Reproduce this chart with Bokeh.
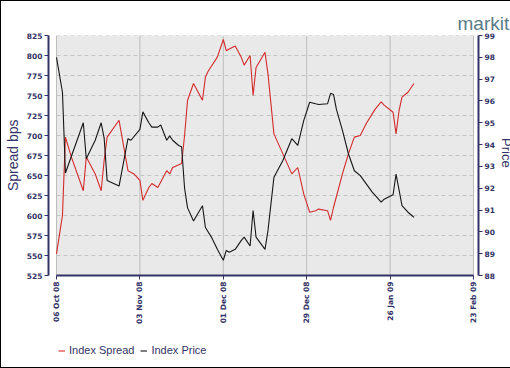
import math
import pandas as pd
from bokeh.plotting import figure
from bokeh.models import Range1d, LinearAxis, FixedTicker, Legend, LegendItem, BoxAnnotation
from bokeh.embed import file_html
from bokeh.resources import INLINE

# ---- data ----
spread_dates = [
    "2008-10-06", "2008-10-07", "2008-10-08", "2008-10-09", "2008-10-11", "2008-10-15",
    "2008-10-16", "2008-10-19", "2008-10-21", "2008-10-22", "2008-10-23", "2008-10-27",
    "2008-10-30", "2008-11-01", "2008-11-03", "2008-11-04", "2008-11-06", "2008-11-07",
    "2008-11-09", "2008-11-10", "2008-11-12", "2008-11-13", "2008-11-14", "2008-11-17",
    "2008-11-18", "2008-11-19", "2008-11-21", "2008-11-24", "2008-11-25", "2008-11-26",
    "2008-11-29", "2008-12-01", "2008-12-02", "2008-12-03", "2008-12-05", "2008-12-07",
    "2008-12-08", "2008-12-10", "2008-12-11", "2008-12-12", "2008-12-15", "2008-12-16",
    "2008-12-18", "2008-12-21", "2008-12-24", "2008-12-26", "2008-12-28", "2008-12-30",
    "2009-01-01", "2009-01-02", "2009-01-05", "2009-01-06", "2009-01-07", "2009-01-10",
    "2009-01-12", "2009-01-14", "2009-01-16", "2009-01-18", "2009-01-20", "2009-01-21",
    "2009-01-23", "2009-01-24", "2009-01-27", "2009-01-28", "2009-01-29", "2009-01-30",
    "2009-02-01", "2009-02-03",
]
spread_values = [
    552, 576, 600, 698, 673, 631,
    673, 652, 631, 669, 698, 719,
    656, 652, 644, 619, 635, 640,
    635, 642, 656, 652, 660, 665,
    700, 744, 765, 744, 773, 781,
    798, 820, 806, 808, 812, 798,
    788, 800, 750, 785, 804, 777,
    702, 677, 652, 660, 627, 604,
    606, 608, 606, 594, 610, 652,
    677, 698, 700, 715, 727, 733,
    742, 738, 729, 702, 731, 748,
    754, 765,
]

price_dates = [
    "2008-10-06", "2008-10-08", "2008-10-09", "2008-10-15", "2008-10-16", "2008-10-19",
    "2008-10-21", "2008-10-22", "2008-10-23", "2008-10-27", "2008-10-30", "2008-10-31",
    "2008-11-03", "2008-11-04", "2008-11-06", "2008-11-07", "2008-11-09", "2008-11-10",
    "2008-11-12", "2008-11-13", "2008-11-14", "2008-11-16", "2008-11-17", "2008-11-18",
    "2008-11-19", "2008-11-21", "2008-11-24", "2008-11-25", "2008-11-27", "2008-11-29",
    "2008-12-01", "2008-12-02", "2008-12-03", "2008-12-05", "2008-12-07", "2008-12-08",
    "2008-12-10", "2008-12-11", "2008-12-12", "2008-12-15", "2008-12-16", "2008-12-18",
    "2008-12-21", "2008-12-24", "2008-12-26", "2008-12-28", "2008-12-30", "2009-01-01",
    "2009-01-02", "2009-01-05", "2009-01-06", "2009-01-07", "2009-01-08", "2009-01-10",
    "2009-01-12", "2009-01-14", "2009-01-16", "2009-01-18", "2009-01-20", "2009-01-21",
    "2009-01-23", "2009-01-24", "2009-01-27", "2009-01-28", "2009-01-30", "2009-02-01",
    "2009-02-03",
]
price_values = [
    98.0, 96.4, 92.7, 95.0, 93.35, 94.2,
    95.0, 94.3, 92.35, 92.1, 94.27, 94.2,
    94.7, 95.5, 95.0, 94.8, 94.8, 94.9,
    94.2, 94.4, 94.2, 93.96, 93.9, 92.0,
    91.1, 90.5, 91.2, 90.2, 89.76, 89.2,
    88.7, 89.15, 89.07, 89.2, 89.6, 89.76,
    89.35, 90.98, 89.76, 89.2, 90.06, 92.5,
    93.27, 94.27, 93.96, 95.1, 95.94, 95.87,
    95.84, 95.87, 96.35, 96.3, 95.6, 94.65,
    93.58, 92.8, 92.58, 92.2, 91.82, 91.67,
    91.36, 91.5, 91.7, 92.65, 91.2, 90.9,
    90.67,
]

tick_dates = ["2008-10-06", "2008-11-03", "2008-12-01", "2008-12-29", "2009-01-26", "2009-02-23"]
tick_labels = ["06 Oct 08", "03 Nov 08", "01 Dec 08", "29 Dec 08", "26 Jan 09", "23 Feb 09"]
spread_ticks = list(range(525, 826, 25))
price_ticks = list(range(88, 100))

series_names = ["Index Spread", "Index Price"]
axis_titles = ["Spread bps", "Price"]
logo_text = "markit"

NAVY = "#333366"
NBSP = "\u00a0"

def ms(d):
    return pd.Timestamp(d).value // 10**6

# ---- layout numbers (pixels) ----
BAND_W, BAND_H = 417, 240      # grey plotting band
EXTRA_H = 85                   # room below the band (inside the frame) for dates + legend
PAD_L, PAD_R = 8, 5            # room at the sides so the end date labels are not cut

s_lo, s_hi = spread_ticks[0], spread_ticks[-1]
p_lo, p_hi = price_ticks[0], price_ticks[-1]
s_start = s_lo - (s_hi - s_lo) * EXTRA_H / BAND_H
p_start = p_lo - (p_hi - p_lo) * EXTRA_H / BAND_H

x_lo = pd.Timestamp(tick_dates[0])
x_hi = pd.Timestamp(tick_dates[-1])
span = x_hi - x_lo
x_start = x_lo - span * (PAD_L / BAND_W)
x_end = x_hi + span * (PAD_R / BAND_W)

p = figure(
    frame_width=BAND_W + PAD_L + PAD_R, frame_height=BAND_H + EXTRA_H,
    x_axis_type="datetime",
    x_range=Range1d(start=x_start, end=x_end),
    y_range=Range1d(start=s_start, end=s_hi),
    output_backend="svg", toolbar_location=None,
    min_border_left=43, min_border_right=35, min_border_top=34, min_border_bottom=7,
    background_fill_color="white", border_fill_color="white",
    outline_line_color=None,
    styles={"border": "1px solid #000000"},
)
p.extra_y_ranges = {"price": Range1d(start=p_start, end=p_hi)}

# grey plotting band
band = BoxAnnotation(left=ms(tick_dates[0]), right=ms(tick_dates[-1]), bottom=s_lo, top=s_hi,
                     fill_color="#e9e9e9", fill_alpha=1.0, line_color=None, level="image")
p.add_layout(band)

# grid lines limited to the band
tick_ts = pd.to_datetime(tick_dates)
p.segment(x0=tick_ts, y0=[s_lo] * len(tick_ts), x1=tick_ts, y1=[s_hi] * len(tick_ts),
          line_color="#bdbdbd", line_width=1)
p.segment(x0=[x_lo] * len(spread_ticks), y0=spread_ticks, x1=[x_hi] * len(spread_ticks),
          y1=spread_ticks, line_color="#c4c4c4", line_width=1, line_dash="4 3")

r_spread = p.line(pd.to_datetime(spread_dates), spread_values, line_color="#d42a2a", line_width=1.1)
r_price = p.line(pd.to_datetime(price_dates), price_values, line_color="#161616", line_width=1.1,
                 y_range_name="price")

right = LinearAxis(y_range_name="price")
p.add_layout(right, "right")

xa = p.xaxis[0]
xa.ticker = FixedTicker(ticks=[ms(d) for d in tick_dates])
xa.major_label_overrides = {ms(d): lab for d, lab in zip(tick_dates, tick_labels)}
xa.major_label_orientation = math.pi / 2
xa.fixed_location = s_lo
xa.bounds = (ms(tick_dates[0]), ms(tick_dates[-1]))

ya = p.yaxis[0]
ya.ticker = FixedTicker(ticks=spread_ticks)
ya.bounds = (s_lo, s_hi)
ya.axis_label = NBSP * 22 + axis_titles[0]
right.ticker = FixedTicker(ticks=price_ticks)
right.bounds = (p_lo, p_hi)
right.axis_label = axis_titles[1] + NBSP * 25

for ax in (xa, ya, right):
    ax.axis_line_color = NAVY
    ax.axis_line_width = 2
    ax.major_tick_line_color = NAVY
    ax.major_tick_line_width = 1
    ax.major_tick_in = 0
    ax.major_tick_out = 4
    ax.minor_tick_line_color = None
    ax.major_label_text_font = "DejaVu Sans"
    ax.major_label_text_font_style = "bold"
    ax.major_label_text_font_size = "7.5px"
    ax.major_label_text_color = NAVY
    ax.major_label_standoff = 2
    ax.axis_label_text_font = "Liberation Sans"
    ax.axis_label_text_font_style = "normal"
    ax.axis_label_text_font_size = "14px"
    ax.axis_label_text_color = NAVY
    ax.axis_label_standoff = 3
right.axis_label_standoff = 1
right.axis_label_text_font_size = "13px"

p.xgrid.visible = False
p.ygrid.visible = False

# logo as the plot title, placed above the frame at the right
p.title.text = logo_text
p.title.text_font = "Liberation Sans"
p.title.text_font_style = "normal"
p.title.text_font_size = "19px"
p.title.text_color = "#5a7b88"
p.title.align = "left"
p.title.offset = 409
p.title.standoff = 3

legend = Legend(
    items=[LegendItem(label=series_names[0], renderers=[r_spread]),
           LegendItem(label=series_names[1], renderers=[r_price])],
    orientation="horizontal",
    location=(10, 4),
    glyph_width=7, glyph_height=11, label_height=11,
    label_standoff=4, spacing=6, padding=3, margin=0,
    label_text_font="Liberation Sans", label_text_font_size="11px",
    label_text_color=NAVY,
    border_line_color=None, background_fill_alpha=0,
)
p.add_layout(legend)

open("out.html", "w").write(file_html(p, INLINE))
